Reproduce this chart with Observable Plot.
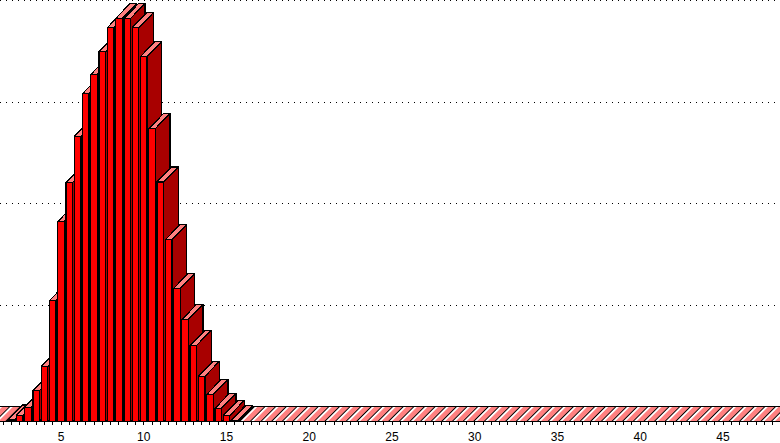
<!DOCTYPE html>
<html><head><meta charset="utf-8">
<script src="https://cdn.jsdelivr.net/npm/d3@7"></script>
<script src="https://cdn.jsdelivr.net/npm/@observablehq/plot@0.6"></script>
<style>html,body{margin:0;padding:0;background:#fff}svg{display:block}</style>
</head><body><div id="c"></div>
<script>
const binCentres=[2,2.5,3,3.5,4,4.5,5,5.5,6,6.5,7,7.5,8,8.5,9,9.5,10,10.5,11,11.5,12,12.5,13,13.5,14,14.5,15,15.5];
const binHeights=[1.5,6,14,30.5,54,119,197,235.5,281,323,342,364.5,388,397,397,388,359.5,288.5,236,179,131,100.5,75,44.6,26.6,13,6,1];
const gridLevels=[0,100,200,300,400];
const tickValues=d3.range(0,48.5,0.5);
const labelValues=[5,10,15,20,25,30,35,40,45];
const W=780,H=443,mb=22;
const pxPerX=16.55,pxPerY=1.015,x0=5-60.5/pxPerX,x1=x0+W/pxPerX;
const yMax=(H-mb)/pxPerY;
const depthX=14.6/pxPerX, depthY=15/pxPerY, half=3.3/pxPerX;
const visibleTicks=tickValues.filter(t=>t>=x0&&t<=x1);
const floorShape=[[x0-1,0],[x1+1,0],[x1+1+depthX,depthY],[x0-1+depthX,depthY]];
const layers=binCentres.map((c,i)=>{const h=binHeights[i],l=c-half,r=c+half;return{
 side:[[r,0],[r+depthX,depthY],[r+depthX,h+depthY],[r,h]],
 top:[[l,h],[r,h],[r+depthX,h+depthY],[l+depthX,h+depthY]],
 front:[[l,0],[r,0],[r,h],[l,h]]};});
const shape=(pts,fill)=>Plot.line(pts,{x:d=>d[0],y:d=>d[1],fill,stroke:"#000",strokeWidth:1.3,curve:"linear-closed"});
const barMarks=layers.flatMap(b=>[shape(b.side,"#a80000"),shape(b.top,"#ff8080"),shape(b.front,"#ff0000")]);
const defs=()=>{const s=d3.create("svg:g");const p=s.append("defs").append("pattern").attr("id","hatch").attr("width",8).attr("height",8).attr("patternUnits","userSpaceOnUse").attr("patternTransform","rotate(-45) scale(0.94)");
 p.append("rect").attr("width",8).attr("height",8).attr("fill","#ff8080");
 p.append("rect").attr("width",8).attr("height",1.1).attr("y",0).attr("fill","#000");
 p.append("rect").attr("width",8).attr("height",1.4).attr("y",1.1).attr("fill","#fff");
 return s.node();};
const chart=Plot.plot({width:W,height:H,marginTop:0,marginBottom:mb,marginLeft:0,marginRight:0,
 x:{domain:[x0,x1],range:[0,W],axis:null},y:{domain:[0,yMax],range:[H-mb,0],axis:null},
 style:{background:"#fff",fontFamily:"'Liberation Sans',Arial,sans-serif",shapeRendering:"crispEdges"},
 marks:[defs,
  Plot.ruleY(gridLevels.map(g=>g+depthY),{stroke:"#000",strokeWidth:1,strokeDasharray:"1 5"}),
  shape(floorShape,"url(#hatch)"),
  ...barMarks,
  Plot.ruleY([0],{stroke:"#000",strokeWidth:1}),
  Plot.ruleX(visibleTicks,{x:d=>d,y1:0,y2:-4/pxPerY,stroke:"#000",strokeWidth:1}),
  Plot.text(labelValues,{x:d=>d,y:0,dy:16,text:d=>String(d),fontSize:12,fill:"#000"})
 ]});
document.getElementById("c").append(chart);
</script></body></html>
